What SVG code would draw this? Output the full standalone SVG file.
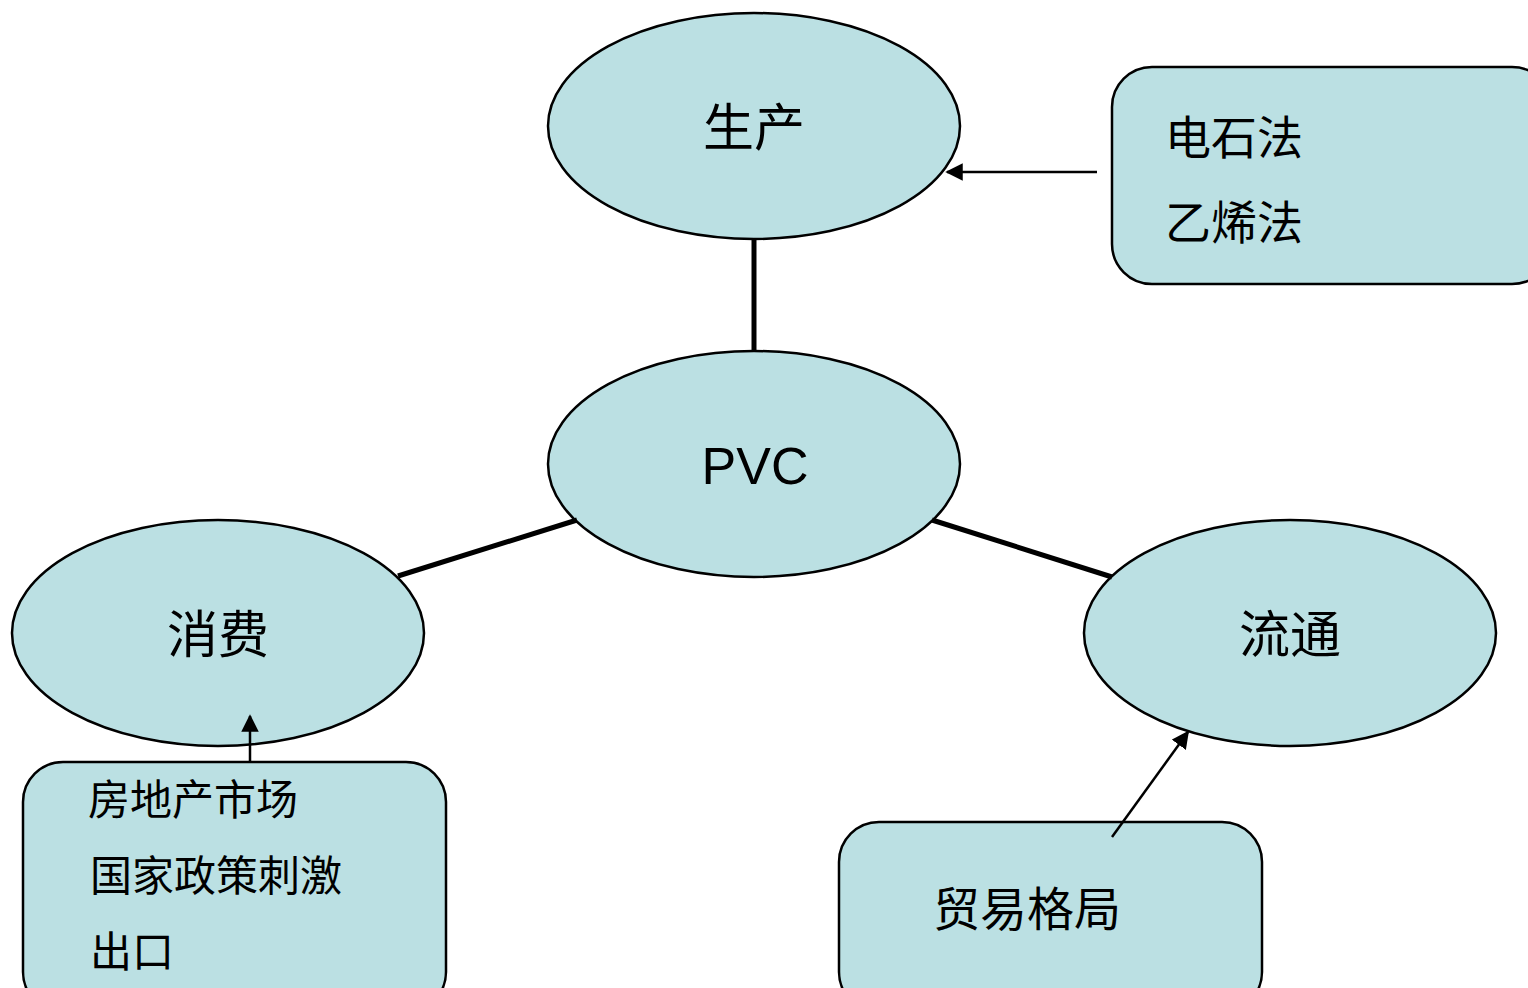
<svg xmlns="http://www.w3.org/2000/svg" width="1528" height="988" viewBox="0 0 1528 988">
<defs>
<style>
.node{fill:#BBE0E3;stroke:#000;stroke-width:2.5}
.lbl{font-family:"Noto Sans CJK SC","Liberation Serif",serif;fill:#000}
.pvc{font-family:"Liberation Sans",Arial,sans-serif;fill:#000}
.thick{stroke:#000;stroke-width:5;fill:none}
.thin{stroke:#000;stroke-width:2.5;fill:none}
</style>
<marker id="arr" viewBox="0 0 10 10" refX="9" refY="5" markerWidth="7" markerHeight="7" orient="auto" markerUnits="strokeWidth">
<path d="M0,0 L10,5 L0,10 z" fill="#000"/>
</marker>
</defs>
<rect width="1528" height="988" fill="#fff"/>
<g id="shengchan">
<ellipse class="node" cx="754" cy="126" rx="206" ry="113"/>
<text class="lbl" x="754" y="146" font-size="51" text-anchor="middle">生产</text>
</g>
<g id="pvc">
<ellipse class="node" cx="754" cy="464" rx="206" ry="113"/>
<text class="pvc" x="755" y="484" font-size="52" text-anchor="middle">PVC</text>
</g>
<g id="xiaofei">
<ellipse class="node" cx="218" cy="633" rx="206" ry="113"/>
<text class="lbl" x="218" y="653" font-size="51" text-anchor="middle">消费</text>
</g>
<g id="liutong">
<ellipse class="node" cx="1290" cy="633" rx="206" ry="113"/>
<text class="lbl" x="1290" y="653" font-size="51" text-anchor="middle">流通</text>
</g>
<g id="methods">
<rect class="node" x="1112" y="67" width="440" height="217" rx="40"/>
<text class="lbl" x="1165" y="154" font-size="46">电石法</text>
<text class="lbl" x="1165" y="239" font-size="46">乙烯法</text>
</g>
<g id="factors">
<rect class="node" x="23" y="762" width="423" height="250" rx="40"/>
<text class="lbl" x="88" y="815" font-size="42">房地产市场</text>
<text class="lbl" x="90" y="891" font-size="42">国家政策刺激</text>
<text class="lbl" x="90" y="967" font-size="42">出口</text>
</g>
<g id="trade">
<rect class="node" x="839" y="822" width="423" height="190" rx="40"/>
<text class="lbl" x="933" y="926" font-size="47">贸易格局</text>
</g>
<g id="connectors">
<line class="thick" x1="754" y1="239" x2="754" y2="351"/>
<line class="thick" x1="398" y1="576" x2="577" y2="520"/>
<line class="thick" x1="932" y1="520" x2="1112" y2="577"/>
<line class="thin" x1="1097" y1="172" x2="947" y2="172" marker-end="url(#arr)"/>
<line class="thin" x1="250" y1="762" x2="250" y2="716" marker-end="url(#arr)"/>
<line class="thin" x1="1112" y1="837" x2="1188" y2="732" marker-end="url(#arr)"/>
</g>
</svg>
